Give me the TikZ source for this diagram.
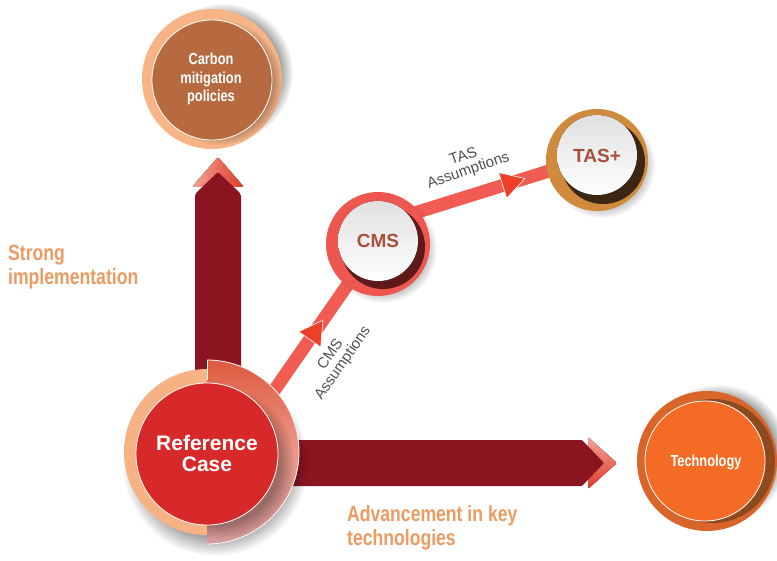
\documentclass[tikz,border=0pt]{standalone}
\usepackage{fontspec}
\setmainfont{Liberation Sans}
\newfontfamily\condfont[FakeStretch=0.8]{Liberation Sans}
\usetikzlibrary{shapes.geometric,fadings,calc}
\pgfdeclarelayer{back}
\pgfdeclarelayer{mid}
\pgfsetlayers{back,mid,main}
\definecolor{shaft}{HTML}{8A1520}
\definecolor{chevL}{HTML}{F3A396}
\definecolor{chevD}{HTML}{DF3A2A}
\definecolor{pipe}{HTML}{F25B52}
\definecolor{tri}{HTML}{EE4029}
\definecolor{refred}{HTML}{D7282A}
\definecolor{peach}{HTML}{F7B283}
\definecolor{halfT}{HTML}{DC5A3D}
\definecolor{halfM}{HTML}{EE998A}
\definecolor{halfB}{HTML}{D49A9A}
\definecolor{cmsring}{HTML}{EE5650}
\definecolor{cmsdark}{HTML}{5E1A18}
\definecolor{tasring}{HTML}{CF8B3B}
\definecolor{tasdark}{HTML}{3B2614}
\definecolor{carbring}{HTML}{F7B587}
\definecolor{carbin}{HTML}{B7693F}
\definecolor{techring}{HTML}{D9652A}
\definecolor{techin}{HTML}{F36B24}
\definecolor{techdark}{HTML}{8C4A1E}
\definecolor{orangetxt}{HTML}{EB9B61}
\definecolor{browntxt}{HTML}{A8503C}
\definecolor{graytxt}{HTML}{505050}
\tikzset{
  hub/.style={circle, inner sep=0pt, align=center},
  pipeline/.style={draw=pipe, line width=13pt, shorten <=-10pt},
  pipetip/.style={regular polygon, regular polygon sides=3, shape border rotate=-90,
    fill=tri, draw=white, line width=0.6pt, minimum size=31pt, inner sep=0pt, sloped},
  assump/.style={text=graytxt, font=\fontsize{15}{15}\selectfont, align=center, inner sep=0pt},
  heading/.style={text=orangetxt, font=\condfont\bfseries\fontsize{22}{24}\selectfont,
    align=left, inner sep=0pt, anchor=north west},
  condwhite/.style={text=white, font=\condfont\bfseries\fontsize{16}{18.5}\selectfont},
  brownlbl/.style={text=browntxt, font=\bfseries\fontsize{19}{19}\selectfont},
  softshadow/.style={fill=black, opacity=#1, path fading=circle with fuzzy edge 20 percent},
}
\begin{document}
\begin{tikzpicture}[x=1pt,y=1pt]
\useasboundingbox (0,0) rectangle (777,-561);

% ---- nodes ----
\node[hub, minimum size=184pt, text=white, font=\bfseries\fontsize{21}{21}\selectfont] (ref) at (207,-453) {Reference\\Case};
\node[hub, minimum size=104pt, brownlbl] (cms) at (378,-241) {CMS};
\node[hub, minimum size=102pt, brownlbl] (tas) at (597,-156) {TAS+};
\node[hub, minimum size=140pt, condwhite] (carbon) at (211,-79) {Carbon\\mitigation\\policies};
\node[hub, minimum size=140pt, condwhite] (tech) at (706,-462) {Technology};

% ---- arrows and pipelines ----
\begin{pgfonlayer}{back}
  \fill[left color=chevL, right color=chevD, rounded corners=2pt] (192,-187) -- (218,-157) -- (244,-187) -- cycle;
  \fill[shaft, rounded corners=2pt] (195,-400) -- (195,-194) -- (218,-172) -- (241,-194) -- (241,-400) -- cycle;
  \fill[top color=chevL, bottom color=chevD, rounded corners=2pt] (588,-437) -- (617,-463) -- (588,-489) -- cycle;
  \fill[shaft, rounded corners=1pt] (260,-440) -- (582,-440) -- (604,-463) -- (582,-486) -- (260,-486) -- cycle;
  \draw[pipeline] (ref.43) -- node[pipetip, pos=0.383] (tip1) {} (cms.center);
  \draw[pipeline] (cms.35) -- node[pipetip, pos=0.507] (tip2) {} (tas.center);
\end{pgfonlayer}

% ---- circle bodies ----
\begin{pgfonlayer}{mid}
  % Reference case
  \fill[softshadow=0.35] ($(ref.center)+(8,-10)$) circle (93);
  \fill[peach] ($(ref.center)+(0,1)$) circle (83);
  \begin{scope}
    \clip ($(ref.center)+(0,110)$) rectangle ($(ref.center)+(120,-110)$);
    \fill[top color=halfT, bottom color=halfB, middle color=halfM] ($(ref.center)+(0,1)$) circle (92);
    \fill[softshadow=0.3] ($(ref.center)+(12,-10)$) circle (76);
  \end{scope}
  \draw[white, line width=0.8pt] ($(ref.center)+(0,93)$) arc[start angle=90, end angle=-90, radius=92];
  \draw[white, line width=0.8pt] ($(ref.center)+(0,93)$) -- ++(0,-20);
  \fill[refred, draw=white, line width=0.8pt] ($(ref.center)+(0,-1)$) circle (71);

  % CMS
  \fill[softshadow=0.25] ($(cms.center)+(5,-8)$) circle (54);
  \fill[cmsring] ($(cms.center)+(0,-3)$) circle (52);
  \fill[cmsdark] ($(cms.center)+(5,-6)$) circle (42);
  \fill[top color=black!12, bottom color=white] (cms.center) circle (40);

  % TAS+
  \fill[softshadow=0.25] ($(tas.center)+(5,-9)$) circle (53);
  \fill[tasring] ($(tas.center)+(0,-4)$) circle (51);
  \fill[tasdark] ($(tas.center)+(6,-6)$) circle (42);
  \fill[top color=black!12, bottom color=white] ($(tas.center)+(0,1)$) circle (40);

  % Carbon mitigation policies
  \fill[softshadow=0.4] ($(carbon.center)+(12,6)$) circle (70);
  \fill[carbring] ($(carbon.center)+(1,0)$) circle (70);
  \begin{scope}
    \clip ($(carbon.center)+(1,0)$) circle (70);
    \fill[softshadow=0.35] ($(carbon.center)+(8,-3)$) circle (63);
  \end{scope}
  \fill[carbin, draw=white, line width=0.8pt] ($(carbon.center)+(1,-1)$) circle (60);

  % Technology
  \fill[softshadow=0.4] ($(tech.center)+(12,8)$) circle (70);
  \fill[techring] ($(tech.center)+(1,1)$) circle (70);
  \begin{scope}
    \clip ($(tech.center)+(1,1)$) circle (70);
    \fill[techdark] ($(tech.center)+(7,1)$) circle (62);
  \end{scope}
  \fill[techin, draw=white, line width=0.8pt] ($(tech.center)+(-1,1)$) circle (60);
\end{pgfonlayer}

% ---- labels ----
\node[assump, rotate=55] (cmsas) at (337,-359) {CMS\\Assumptions};
\node[assump, rotate=19] (tasas) at (466,-164) {TAS\\Assumptions};
\node[heading] (strong) at (8,-245) {Strong\\implementation};
\node[heading] (advance) at (347,-505) {Advancement in key\\technologies};
\end{tikzpicture}
\end{document}
